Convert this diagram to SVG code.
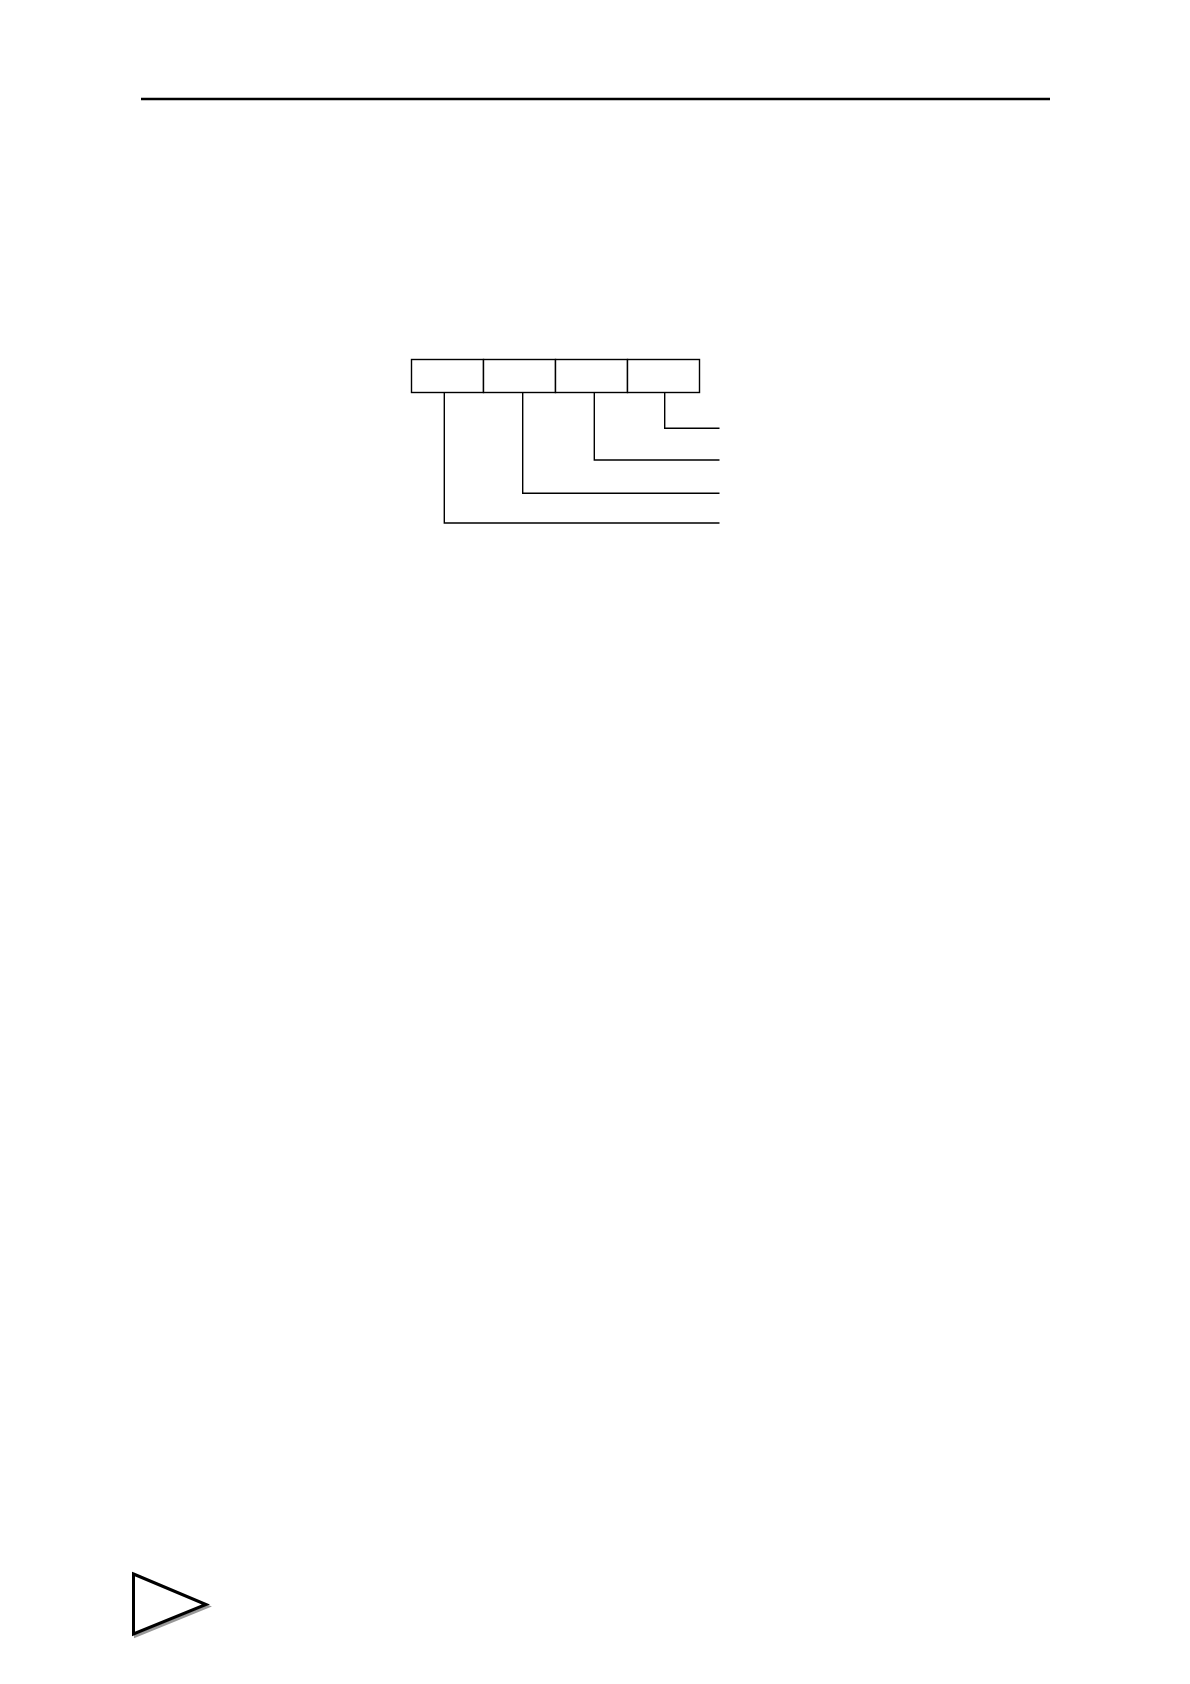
<svg xmlns="http://www.w3.org/2000/svg" width="1190" height="1684" viewBox="0 0 1190 1684">
<style>
.cell{fill:#fff;stroke:#000;stroke-width:1.4}
.conn{fill:none;stroke:#000;stroke-width:1.4}
</style>
<rect x="0" y="0" width="1190" height="1684" fill="#fff"/>
<line x1="141" y1="99" x2="1050" y2="99" stroke="#000" stroke-width="2.6"/>
<g id="cell1"><rect class="cell" x="411.5" y="359.5" width="72" height="33"/></g>
<g id="cell2"><rect class="cell" x="483.5" y="359.5" width="72" height="33"/></g>
<g id="cell3"><rect class="cell" x="555.5" y="359.5" width="72" height="33"/></g>
<g id="cell4"><rect class="cell" x="627.5" y="359.5" width="72" height="33"/></g>
<g id="connectors">
<polyline class="conn" points="664.7,392.5 664.7,428.3 719.5,428.3"/>
<polyline class="conn" points="594.3,392.5 594.3,460 719.5,460"/>
<polyline class="conn" points="522.7,392.5 522.7,493.3 719.5,493.3"/>
<polyline class="conn" points="444.3,392.5 444.3,523 719.5,523"/>
</g>
<g id="triangle">
<polygon points="135.5,1576 208,1606.5 135.5,1636" fill="none" stroke="#999" stroke-width="3"/>
<polygon points="133.5,1574 206,1604.5 133.5,1634" fill="#fff" stroke="#000" stroke-width="3"/>
</g>
</svg>
